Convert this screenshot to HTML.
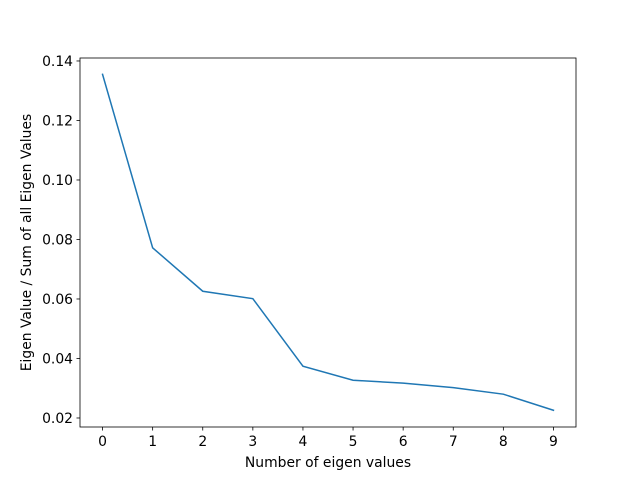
<!DOCTYPE html>
<html><head><meta charset="utf-8"><style>
body{margin:0;background:#fff}
svg{display:block;font-family:"DejaVu Sans","Liberation Sans",sans-serif}
</style></head><body>
<svg id="chart" width="640" height="480" viewBox="0 0 640 480">
<rect width="640" height="480" fill="#fff"/>
<g id="axes"></g>
</svg>
<script>
const xValues=[0,1,2,3,4,5,6,7,8,9];
const yValues=[0.1355,0.0772,0.0626,0.0601,0.0374,0.0327,0.0317,0.0302,0.0280,0.0226];
const xTicks=[0,1,2,3,4,5,6,7,8,9];
const yTicks=[0.02,0.04,0.06,0.08,0.10,0.12,0.14];
const yTickLabels=["0.02","0.04","0.06","0.08","0.10","0.12","0.14"];
const L=80,R=576,T=58,B=427;
const xmin=-0.45,xmax=9.45,ymin=0.01697,ymax=0.1410;
const sx=v=>L+(v-xmin)/(xmax-xmin)*(R-L);
const sy=v=>B-(v-ymin)/(ymax-ymin)*(B-T);
const NS="http://www.w3.org/2000/svg";
const g=document.getElementById('axes');
function mk(tag,attrs){const e=document.createElementNS(NS,tag);for(const k in attrs)e.setAttribute(k,attrs[k]);g.appendChild(e);return e;}
let d=xValues.map((x,i)=>(i?'L':'M')+sx(x).toFixed(2)+','+sy(yValues[i]).toFixed(2)).join(' ');
const line=mk('path',{d:d,fill:'none',stroke:'#1f77b4','stroke-width':1.5,'stroke-linecap':'square'});


const frame=mk('rect',{x:L,y:T,width:R-L,height:B-T,fill:'none',stroke:'#000','stroke-width':0.8});


xTicks.forEach(t=>{const x=sx(t);
 mk('line',{x1:x,x2:x,y1:B,y2:B+3.5,stroke:'#000','stroke-width':0.8});
 const tx=mk('text',{x:x,y:B+19,'text-anchor':'middle','font-size':13.9});tx.textContent=t;
 
 });
yTicks.forEach((t,i)=>{const y=sy(t);
 mk('line',{x1:L-3.5,x2:L,y1:y,y2:y,stroke:'#000','stroke-width':0.8});
 const tx=mk('text',{x:L-7,y:y+5,'text-anchor':'end','font-size':13.9});tx.textContent=yTickLabels[i];
 
 });
const xl=mk('text',{x:(L+R)/2,y:467,'text-anchor':'middle','font-size':13.9});xl.textContent='Number of eigen values';


const yl=mk('text',{x:0,y:0,'text-anchor':'middle','font-size':13.9,transform:'translate(31,'+((T+B)/2)+') rotate(-90)'});yl.textContent='Eigen Value / Sum of all Eigen Values';


</script>
</body></html>
